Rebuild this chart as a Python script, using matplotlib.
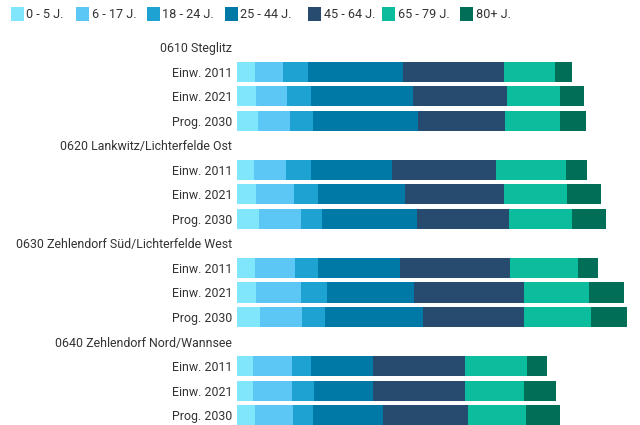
import numpy as np
import matplotlib.pyplot as plt
from matplotlib.patches import Rectangle

plt.rcParams['font.family'] = ['Roboto', 'DejaVu Sans']

age_groups = ['0 - 5 J.', '6 - 17 J.', '18 - 24 J.', '25 - 44 J.', '45 - 64 J.', '65 - 79 J.', '80+ J.']
colors = ['#80e6fb', '#5cc7f4', '#1ea2d2', '#0079a6', '#264b6e', '#0bbd9d', '#016f58']

regions = ['0610 Steglitz', '0620 Lankwitz/Lichterfelde Ost',
           '0630 Zehlendorf Süd/Lichterfelde West', '0640 Zehlendorf Nord/Wannsee']
periods = ['Einw. 2011', 'Einw. 2021', 'Prog. 2030']

# rows: region -> period -> age group
steglitz = [[17.7, 28.3, 25.0, 95.3, 101.0, 51.0, 16.3],
            [19.3, 31.3, 23.7, 101.7, 94.0, 53.3, 24.0],
            [21.0, 32.3, 22.7, 105.0, 87.3, 55.0, 26.0]]
lankwitz = [[16.7, 32.7, 25.0, 81.0, 103.7, 69.7, 21.3],
            [19.3, 38.0, 23.7, 86.7, 99.3, 63.0, 34.3],
            [21.7, 42.3, 21.0, 95.0, 92.0, 63.0, 34.3]]
zehlendorf_sued = [[17.7, 40.0, 23.3, 82.3, 109.3, 68.3, 20.3],
                   [18.7, 45.3, 26.0, 86.7, 110.7, 65.0, 35.0],
                   [22.7, 42.3, 23.3, 97.7, 101.3, 67.0, 36.0]]
zehlendorf_nord = [[15.7, 39.3, 19.0, 62.0, 92.3, 61.3, 20.3],
                   [15.7, 39.3, 22.0, 58.7, 92.7, 58.3, 32.7],
                   [17.7, 38.0, 20.3, 70.3, 85.0, 57.3, 34.7]]

data = [steglitz, lankwitz, zehlendorf_sued, zehlendorf_nord]

W, H = 640, 425
fig = plt.figure(figsize=(W / 100, H / 100), dpi=100)
ax = fig.add_axes([0.370, -0.0058, 0.63, 0.924])

labels = []
rows = []
pos = 0
for region, block in zip(regions, data):
    labels.append(region)
    pos += 1
    for period, vals in zip(periods, block):
        labels.append(period)
        rows.append((pos, vals))
        pos += 1

for y, vals in rows:
    left = 0
    for v, c in zip(vals, colors):
        ax.barh(y, v, left=left, height=0.82, color=c, linewidth=0)
        left += v

ax.set_yticks(np.arange(len(labels)))
ax.set_yticklabels(labels, fontsize=8.9, color='#333333')
ax.tick_params(axis='y', length=0, pad=3.5)
ax.set_xticks([])
ax.set_xlim(0, 403)
ax.set_ylim(len(labels) - 0.5, -0.5)
for s in ax.spines.values():
    s.set_visible(False)

# legend row at the top (html-like, uneven spacing)
legend_x = [11, 76, 147, 225, 308, 382, 460]
for lx, lab, c in zip(legend_x, age_groups, colors):
    fig.add_artist(Rectangle((lx / W, 1 - 20.5 / H), 13 / W, 13.5 / H,
                             transform=fig.transFigure, facecolor=c, edgecolor='none'))
    fig.text((lx + 15.5) / W, 1 - 14.5 / H, lab, fontsize=9.1, color='#333333', va='center')

fig.savefig('out.png', dpi=100)
